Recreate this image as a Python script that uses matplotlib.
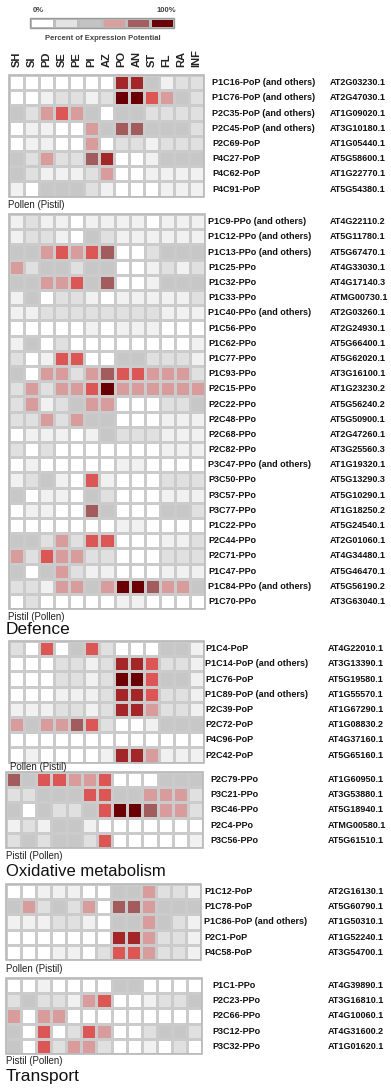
import matplotlib
matplotlib.use("Agg")
import matplotlib.pyplot as plt
import numpy as np
from matplotlib.colors import ListedColormap, BoundaryNorm
from matplotlib.transforms import blended_transform_factory
from matplotlib.patches import Rectangle

plt.rcParams['font.family'] = ['Liberation Sans', 'DejaVu Sans']

# ---------------- data ----------------
tissues = ["SH", "SI", "PD", "SE", "PE", "PI", "AZ", "PO", "AN", "ST", "FL", "RA", "INF"]
# expression level code: 0 = 0% ... 8 = 100%
level_colors = ['#ffffff', '#f1f1f1', '#e0e0e0', '#c7c7c7', '#d99c9c',
                '#dc5656', '#a35c5e', '#a32629', '#6a0006']
legend_colors = ['#ffffff', '#e3e3e3', '#c3c3c3', '#d9a0a0', '#a35f60', '#6a0008']

b1_names = ["P1C16-PoP (and others)", "P1C76-PoP (and others)", "P2C35-PoP (and others)",
            "P2C45-PoP (and others)", "P2C69-PoP", "P4C27-PoP", "P4C62-PoP", "P4C91-PoP"]
b1_ids = ["AT2G03230.1", "AT2G47030.1", "AT1G09020.1", "AT3G10180.1",
          "AT1G05440.1", "AT5G58600.1", "AT1G22770.1", "AT5G54380.1"]
b1_vals = [
    [0, 0, 0, 0, 0, 0, 0, 7, 7, 3, 1, 2, 2],
    [0, 0, 1, 2, 2, 1, 2, 8, 8, 5, 4, 3, 2],
    [3, 2, 4, 5, 4, 3, 0, 3, 3, 2, 2, 2, 2],
    [0, 1, 1, 0, 0, 4, 3, 6, 6, 3, 3, 3, 2],
    [0, 1, 1, 0, 0, 4, 0, 2, 2, 1, 2, 2, 2],
    [3, 2, 4, 2, 2, 6, 7, 0, 0, 1, 3, 3, 3],
    [3, 2, 1, 1, 1, 2, 4, 0, 0, 1, 1, 1, 1],
    [1, 0, 3, 3, 3, 2, 1, 0, 0, 0, 1, 1, 1],
]

b2_names = ["P1C9-PPo (and others)", "P1C12-PPo (and others)", "P1C13-PPo (and others)",
            "P1C25-PPo", "P1C32-PPo", "P1C33-PPo", "P1C40-PPo (and others)", "P1C56-PPo",
            "P1C62-PPo", "P1C77-PPo", "P1C93-PPo", "P2C15-PPo", "P2C22-PPo", "P2C48-PPo",
            "P2C68-PPo", "P2C82-PPo", "P3C47-PPo (and others)", "P3C50-PPo", "P3C57-PPo",
            "P3C77-PPo", "P1C22-PPo", "P2C44-PPo", "P2C71-PPo", "P1C47-PPo",
            "P1C84-PPo (and others)", "P1C70-PPo"]
b2_ids = ["AT4G22110.2", "AT5G11780.1", "AT5G67470.1", "AT4G33030.1", "AT4G17140.3",
          "ATMG00730.1", "AT2G03260.1", "AT2G24930.1", "AT5G66400.1", "AT5G62020.1",
          "AT3G16100.1", "AT1G23230.2", "AT5G56240.2", "AT5G50900.1", "AT2G47260.1",
          "AT3G25560.3", "AT1G19320.1", "AT5G13290.3", "AT5G10290.1", "AT1G18250.2",
          "AT5G24540.1", "AT2G01060.1", "AT4G34480.1", "AT5G46470.1", "AT5G56190.2",
          "AT3G63040.1"]
b2_vals = [
    [1, 2, 1, 1, 0, 1, 1, 1, 1, 0, 1, 1, 1],
    [1, 2, 2, 1, 0, 3, 2, 1, 1, 1, 1, 1, 1],
    [3, 3, 4, 5, 4, 5, 6, 0, 0, 2, 3, 3, 3],
    [4, 2, 3, 3, 2, 3, 3, 0, 0, 1, 2, 1, 2],
    [3, 3, 4, 4, 5, 3, 6, 0, 0, 1, 3, 3, 3],
    [1, 3, 0, 2, 2, 1, 0, 1, 1, 1, 1, 1, 2],
    [1, 1, 2, 2, 2, 2, 2, 2, 2, 2, 1, 1, 1],
    [0, 0, 0, 0, 0, 1, 0, 1, 1, 1, 0, 0, 0],
    [1, 3, 0, 2, 0, 0, 0, 0, 0, 0, 0, 0, 1],
    [2, 0, 1, 5, 5, 0, 0, 3, 3, 2, 2, 2, 1],
    [3, 0, 4, 4, 2, 4, 6, 5, 5, 4, 4, 4, 2],
    [2, 4, 2, 4, 4, 5, 8, 4, 4, 4, 4, 4, 4],
    [2, 4, 1, 2, 3, 4, 4, 0, 0, 0, 2, 2, 3],
    [2, 2, 4, 2, 4, 3, 3, 0, 0, 0, 1, 1, 1],
    [0, 1, 1, 1, 0, 1, 3, 2, 2, 2, 1, 1, 1],
    [2, 0, 2, 0, 0, 0, 0, 0, 0, 0, 1, 1, 1],
    [0, 1, 0, 0, 0, 0, 0, 1, 1, 0, 0, 0, 0],
    [1, 2, 3, 1, 0, 5, 1, 0, 0, 0, 2, 2, 2],
    [3, 0, 1, 1, 0, 3, 2, 0, 0, 0, 1, 1, 1],
    [0, 1, 1, 0, 0, 6, 3, 0, 0, 0, 3, 3, 2],
    [0, 0, 0, 0, 0, 0, 0, 1, 1, 0, 0, 0, 0],
    [3, 3, 2, 4, 2, 5, 5, 0, 0, 0, 1, 1, 2],
    [4, 2, 5, 4, 4, 2, 2, 0, 0, 0, 2, 2, 2],
    [3, 0, 3, 4, 2, 1, 1, 0, 0, 0, 1, 1, 1],
    [2, 2, 1, 4, 4, 3, 4, 8, 8, 6, 4, 4, 3],
    [0, 2, 0, 0, 0, 0, 0, 1, 1, 0, 0, 0, 0],
]

b3_names = ["P1C4-PoP", "P1C14-PoP (and others)", "P1C76-PoP", "P1C89-PoP (and others)",
            "P2C39-PoP", "P2C72-PoP", "P4C96-PoP", "P2C42-PoP"]
b3_ids = ["AT4G22010.1", "AT3G13390.1", "AT5G19580.1", "AT1G55570.1",
          "AT1G67290.1", "AT1G08830.2", "AT4G37160.1", "AT5G65160.1"]
b3_vals = [
    [2, 0, 5, 0, 3, 5, 2, 0, 0, 0, 3, 3, 1],
    [0, 0, 0, 2, 2, 1, 2, 7, 7, 5, 2, 2, 1],
    [0, 0, 0, 2, 2, 1, 2, 8, 8, 5, 3, 3, 1],
    [0, 0, 0, 1, 1, 1, 2, 7, 7, 5, 2, 2, 1],
    [1, 1, 1, 2, 2, 1, 2, 7, 7, 4, 2, 2, 1],
    [4, 3, 4, 4, 6, 5, 2, 0, 0, 1, 3, 3, 3],
    [0, 0, 0, 0, 0, 0, 0, 0, 0, 0, 0, 0, 0],
    [0, 1, 0, 0, 0, 0, 1, 7, 7, 4, 1, 1, 1],
]

b4_names = ["P2C79-PPo", "P3C21-PPo", "P3C46-PPo", "P2C4-PPo", "P3C56-PPo"]
b4_ids = ["AT1G60950.1", "AT3G53880.1", "AT5G18940.1", "ATMG00580.1", "AT5G61510.1"]
b4_vals = [
    [6, 3, 5, 5, 4, 4, 5, 0, 0, 0, 3, 3, 3],
    [2, 2, 3, 3, 3, 5, 5, 3, 3, 4, 4, 4, 2],
    [3, 0, 3, 2, 2, 3, 5, 8, 8, 6, 4, 4, 2],
    [1, 2, 1, 3, 3, 1, 0, 0, 0, 0, 0, 0, 0],
    [2, 3, 2, 3, 3, 2, 5, 0, 0, 0, 0, 0, 1],
]

b5_names = ["P1C12-PoP", "P1C78-PoP", "P1C86-PoP (and others)", "P2C1-PoP", "P4C58-PoP"]
b5_ids = ["AT2G16130.1", "AT5G60790.1", "AT1G50310.1", "AT1G52240.1", "AT3G54700.1"]
b5_vals = [
    [0, 0, 1, 1, 1, 0, 0, 3, 3, 4, 2, 2, 1],
    [3, 4, 2, 3, 2, 4, 0, 6, 6, 4, 3, 3, 3],
    [1, 1, 1, 2, 2, 1, 0, 3, 3, 4, 3, 2, 1],
    [0, 0, 0, 0, 0, 0, 0, 7, 7, 4, 2, 2, 1],
    [0, 0, 0, 1, 1, 0, 2, 5, 5, 4, 2, 2, 1],
]

b6_names = ["P1C1-PPo", "P2C23-PPo", "P2C66-PPo", "P3C12-PPo", "P3C32-PPo"]
b6_ids = ["AT4G39890.1", "AT3G16810.1", "AT4G10060.1", "AT4G31600.2", "AT1G01620.1"]
b6_vals = [
    [0, 0, 1, 0, 0, 0, 0, 3, 3, 0, 0, 0, 0],
    [2, 3, 2, 2, 1, 4, 5, 0, 0, 1, 2, 2, 3],
    [4, 0, 4, 4, 0, 0, 0, 0, 0, 0, 0, 0, 0],
    [3, 0, 5, 0, 2, 5, 4, 0, 0, 2, 3, 3, 2],
    [3, 0, 5, 2, 4, 4, 2, 0, 0, 1, 0, 2, 0],
]

# ---------------- layout (pixels) ----------------
W, H = 391, 1090
fig = plt.figure(figsize=(W / 100, H / 100), dpi=100)
fig.patch.set_facecolor('white')

cmap = ListedColormap(level_colors)
norm = BoundaryNorm(np.arange(-0.5, len(level_colors) + 0.5, 1), cmap.N)


def px_axes(x0, y0, x1, y1):
    return fig.add_axes([x0 / W, 1 - y1 / H, (x1 - x0) / W, (y1 - y0) / H])


def ftext(x, y, s, **kw):
    fig.text(x / W, 1 - y / H, s, **kw)


label_kw = dict(fontsize=6.5, fontweight='bold', color='#111111', va='center')


def draw_block(vals, names, ids, x0, y0, x1, y1, xlab, xid):
    ax = px_axes(x0, y0, x1, y1)
    data = np.array(vals)
    ax.pcolormesh(data, cmap=cmap, norm=norm, edgecolors='#cbcbcb', linewidth=0.9)
    ax.set_xlim(0, data.shape[1])
    ax.set_ylim(data.shape[0], 0)
    ax.axis('off')
    ax.add_patch(Rectangle((0, 0), data.shape[1], data.shape[0], fill=False,
                           edgecolor='#b8b8b8', linewidth=1.2, clip_on=False))
    tr = blended_transform_factory(fig.transFigure, ax.transData)
    for i, (n, g) in enumerate(zip(names, ids)):
        ax.text(xlab / W, i + 0.5, n, transform=tr, ha='left', **label_kw)
        ax.text(xid / W, i + 0.5, g, transform=tr, ha='left', **label_kw)
    return ax


# legend
lax = px_axes(30, 18, 174, 28)
lax.pcolormesh(np.arange(6).reshape(1, 6), cmap=ListedColormap(legend_colors),
               edgecolors='#bdbdbd', linewidth=0.9)
lax.set_xlim(0, 6)
lax.set_ylim(1, 0)
lax.axis('off')
lax.add_patch(Rectangle((0, 0), 6, 1, fill=False, edgecolor='#9a9a9a', linewidth=1, clip_on=False))
ftext(38, 10, "0%", fontsize=5.5, fontweight='bold', color='#444444', ha='center', va='center')
ftext(166, 10, "100%", fontsize=5.5, fontweight='bold', color='#444444', ha='center', va='center')
ftext(103, 38, "Percent of Expression Potential", fontsize=5.5, fontweight='bold',
      color='#444444', ha='center', va='center')

# column headers
for j, t in enumerate(tissues):
    ftext(9 + (j + 0.5) * 15, 67, t, fontsize=8, fontweight='bold', color='#222222',
          rotation=90, ha='center', va='bottom')

rh = 15.2
draw_block(b1_vals, b1_names, b1_ids, 9, 75, 204, 75 + 8 * rh, 212, 330)
ftext(8, 205, "Pollen (Pistil)", fontsize=7, color='#222222', ha='left', va='center')
draw_block(b2_vals, b2_names, b2_ids, 9, 214, 205, 214 + 26 * rh, 208, 330)
ftext(8, 617, "Pistil (Pollen)", fontsize=7, color='#222222', ha='left', va='center')
ftext(6, 629, "Defence", fontsize=12.5, color='#111111', ha='left', va='center')
draw_block(b3_vals, b3_names, b3_ids, 9, 641, 204, 641 + 8 * rh, 205, 328)
ftext(10, 767, "Pollen (Pistil)", fontsize=7, color='#222222', ha='left', va='center')
draw_block(b4_vals, b4_names, b4_ids, 6, 772, 203, 772 + 5 * rh, 210, 328)
ftext(6, 856, "Pistil (Pollen)", fontsize=7, color='#222222', ha='left', va='center')
ftext(6, 871, "Oxidative metabolism", fontsize=12, color='#111111', ha='left', va='center')
draw_block(b5_vals, b5_names, b5_ids, 6, 884, 201, 884 + 5 * rh, 204, 328)
ftext(6, 969, "Pollen (Pistil)", fontsize=7, color='#222222', ha='left', va='center')
draw_block(b6_vals, b6_names, b6_ids, 6, 978, 202, 978 + 5 * rh, 212, 328)
ftext(6, 1061, "Pistil (Pollen)", fontsize=7, color='#222222', ha='left', va='center')
ftext(6, 1077, "Transport", fontsize=12.5, color='#111111', ha='left', va='center')

fig.savefig("out.png", dpi=100, facecolor='white')
